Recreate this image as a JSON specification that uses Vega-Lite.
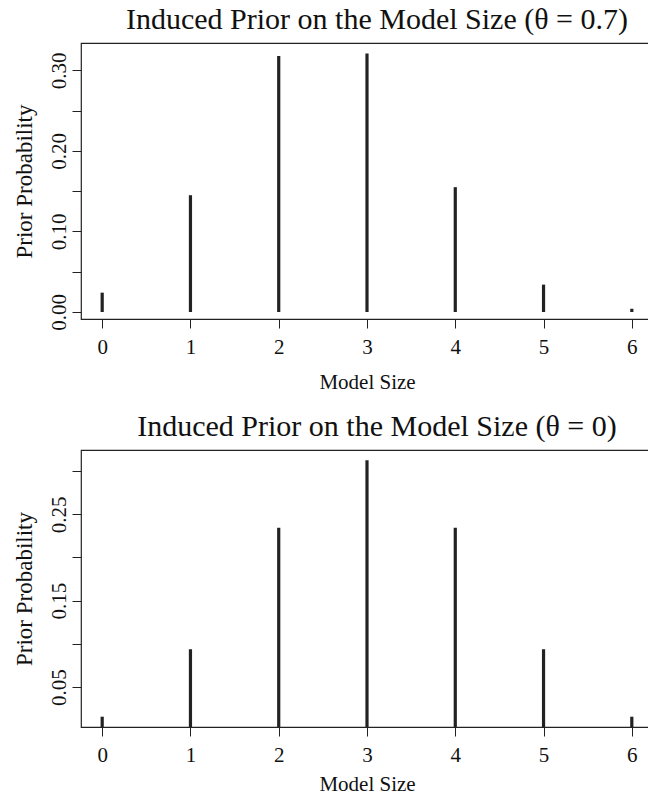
{
  "$schema": "https://vega.github.io/schema/vega-lite/v6.json",
  "padding": {"left": 12, "top": 4, "right": 0, "bottom": 0},
  "spacing": 18,
  "config": {
    "font": "Liberation Serif",
    "view": {"stroke": "#222", "strokeWidth": 1.2},
    "axis": {
      "domain": false,
      "grid": false,
      "ticks": true,
      "tickSize": 9,
      "tickColor": "#222",
      "labelColor": "#111",
      "titleColor": "#111",
      "labelFont": "Liberation Serif",
      "titleFont": "Liberation Serif",
      "labelFontSize": 21,
      "titleFontSize": 21,
      "titleFontWeight": "normal"
    },
    "title": {"font": "Liberation Serif", "fontSize": 30, "fontWeight": "normal", "color": "#111", "offset": 8, "dx": 10}
  },
  "datasets": {
    "top": [
      {"size": 0, "p": 0.024},
      {"size": 1, "p": 0.145},
      {"size": 2, "p": 0.318},
      {"size": 3, "p": 0.321},
      {"size": 4, "p": 0.155},
      {"size": 5, "p": 0.034},
      {"size": 6, "p": 0.004}
    ],
    "bottom": [
      {"size": 0, "p": 0.015625},
      {"size": 1, "p": 0.09375},
      {"size": 2, "p": 0.234375},
      {"size": 3, "p": 0.3125},
      {"size": 4, "p": 0.234375},
      {"size": 5, "p": 0.09375},
      {"size": 6, "p": 0.015625}
    ]
  },
  "vconcat": [
    {
      "title": "Induced Prior on the Model Size (θ = 0.7)",
      "width": 572,
      "height": 276,
      "data": {"name": "top"},
      "mark": {"type": "rule", "strokeWidth": 3.2, "color": "#222", "clip": true},
      "encoding": {
        "x": {
          "field": "size", "type": "quantitative",
          "scale": {"domain": [-0.24, 6.24], "nice": false, "zero": false},
          "axis": {"values": [0, 1, 2, 3, 4, 5, 6], "format": "d", "title": "Model Size", "labelPadding": 8, "titlePadding": 14}
        },
        "y": {
          "field": "p", "type": "quantitative",
          "scale": {"domain": [-0.0087, 0.334], "nice": false, "zero": false},
          "axis": {
            "values": [0, 0.05, 0.1, 0.15, 0.2, 0.25, 0.3],
            "labelExpr": "round(datum.value*100) % 10 == 0 ? format(datum.value, '.2f') : ''",
            "labelAngle": -90, "labelAlign": "center", "labelBaseline": "middle",
            "labelPadding": 13, "title": "Prior Probability", "titleFontSize": 23, "titlePadding": 12
          }
        },
        "y2": {"datum": 0}
      }
    },
    {
      "title": "Induced Prior on the Model Size (θ = 0)",
      "width": 572,
      "height": 277,
      "data": {"name": "bottom"},
      "mark": {"type": "rule", "strokeWidth": 3.2, "color": "#222", "clip": true},
      "encoding": {
        "x": {
          "field": "size", "type": "quantitative",
          "scale": {"domain": [-0.24, 6.24], "nice": false, "zero": false},
          "axis": {"values": [0, 1, 2, 3, 4, 5, 6], "format": "d", "title": "Model Size", "labelPadding": 8, "titlePadding": 8}
        },
        "y": {
          "field": "p", "type": "quantitative",
          "scale": {"domain": [0.0037, 0.3244], "nice": false, "zero": false},
          "axis": {
            "values": [0.05, 0.1, 0.15, 0.2, 0.25, 0.3],
            "labelExpr": "round(datum.value*100) % 10 == 5 ? format(datum.value, '.2f') : ''",
            "labelAngle": -90, "labelAlign": "center", "labelBaseline": "middle",
            "labelPadding": 13, "title": "Prior Probability", "titleFontSize": 23, "titlePadding": 12
          }
        },
        "y2": {"datum": 0}
      }
    }
  ]
}
